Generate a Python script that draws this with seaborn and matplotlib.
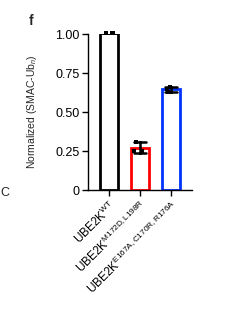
import matplotlib
matplotlib.use("Agg")
import matplotlib.pyplot as plt
import seaborn as sns
import pandas as pd
import numpy as np

categories = ["WT", "M172D", "E167A"]
tick_labels = [r"UBE2K$^{\mathregular{WT}}$",
               r"UBE2K$^{\mathregular{M172D,L198R}}$",
               r"UBE2K$^{\mathregular{E167A,C170R,R176A}}$"]
wt_vals = [1.005, 1.005, 1.005]
m172_vals = [0.25, 0.25, 0.31]
e167_vals = [0.63, 0.65, 0.66]
bar_colors = ["#000000", "#ff0000", "#0033ff"]
yticks = [0, 0.25, 0.50, 0.75, 1.00]
ytick_labels = ["0", "0.25", "0.50", "0.75", "1.00"]

sns.set_style("ticks")
plt.rcParams['font.family'] = ['Liberation Sans', 'DejaVu Sans']
plt.rcParams['mathtext.fontset'] = 'custom'
plt.rcParams['mathtext.rm'] = 'Liberation Sans'
plt.rcParams['mathtext.it'] = 'Liberation Sans:italic'

df = pd.DataFrame({
    "cond": np.repeat(categories, 3),
    "val": wt_vals + m172_vals + e167_vals,
})

fig = plt.figure(figsize=(2.41, 3.17), dpi=100)
ax = fig.add_axes([0.365, 0.4006, 0.432, 0.4921])

sns.barplot(data=df, x="cond", y="val", order=categories, errorbar="sd",
            width=0.6, fill=False, ax=ax, err_kws={"color": "black", "linewidth": 1.8},
            capsize=0.4, linewidth=2)
for patch, c in zip(ax.patches, bar_colors):
    patch.set_edgecolor(c)
    patch.set_facecolor("white")
    patch.set_fill(True)
    patch.set_linewidth(2)
    patch.set_zorder(1)
sns.stripplot(data=df, x="cond", y="val", order=categories, color="black",
              marker="s", size=3.5, jitter=0.2, ax=ax, zorder=3)
for coll in ax.collections:
    coll.set_clip_on(False)

ax.set_xlim(-0.68, 2.68)
ax.set_ylim(0, 1.0)
ax.set_yticks(yticks)
ax.set_yticklabels(ytick_labels, fontsize=9)
ax.set_xticks(range(3))
ax.set_xticklabels(tick_labels, rotation=45, ha="right", rotation_mode="anchor", fontsize=8.5)
ax.set_xlabel("")
ax.set_ylabel(r"Normalized (SMAC-Ub$_{\mathit{n}}$)", fontsize=7.5)
ax.yaxis.set_label_coords(-0.47, 0.5)
ax.tick_params(axis="both", length=4, width=1, colors="black", pad=2)
for s in ["left", "bottom"]:
    ax.spines[s].set_linewidth(1)
    ax.spines[s].set_color("black")
sns.despine(ax=ax)
ax.spines["left"].set_bounds(0, 1.0)

fig.text(29/241, 1-21/317, "f", fontsize=10, fontweight="bold", ha="left", va="center")
fig.text(0.5/241, 1-193/317, "C", fontsize=9, ha="left", va="center")

fig.savefig("out.png", dpi=100)
